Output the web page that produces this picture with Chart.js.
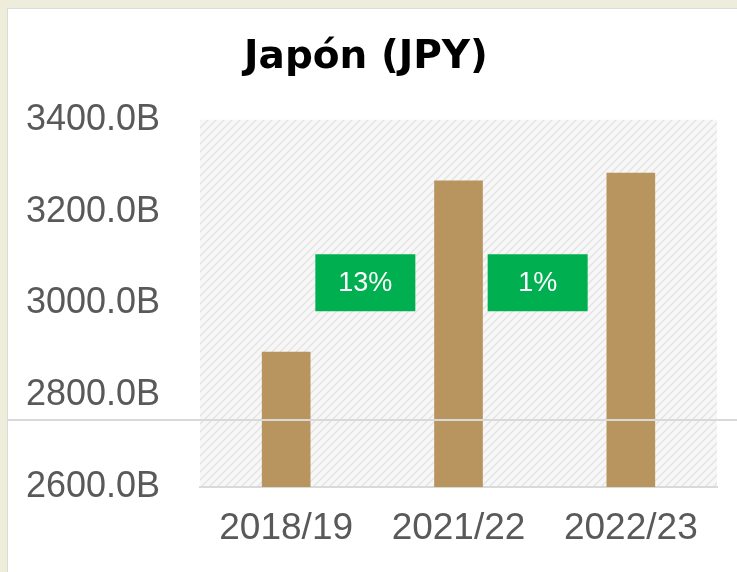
<!DOCTYPE html>
<html>
<head>
<meta charset="utf-8">
<script src="https://cdn.jsdelivr.net/npm/chart.js@4/dist/chart.umd.min.js"></script>
<style>
  html, body { margin: 0; padding: 0; }
  body { width: 737px; height: 572px; background: #eeecda; position: relative; overflow: hidden; }
  .panel {
    position: absolute; left: 7px; top: 8px; right: 0; bottom: 0;
    background: #fff; border-left: 1px solid #dcdcd4; border-top: 1px solid #dcdcd4;
  }
  .wrap { position: absolute; left: 0; top: 0; width: 737px; height: 572px; }
  .sep { position: absolute; left: 7px; right: 0; top: 419px; height: 2px; background: #d9d9d9; }
</style>
</head>
<body>
<div class="panel"></div>
<div class="wrap"><canvas id="chart" width="737" height="572"></canvas></div>
<div class="sep"></div>
<script>
// ── Data ─────────────────────────────────────────────────────────────────────
const categories   = ['2018/19', '2021/22', '2022/23'];
const values       = [2894, 3267, 3284];          // miles de millones JPY
const changeLabels = ['13%', '1%'];               // variación entre barras
const yTicks       = [2600, 2800, 3000, 3200, 3400];

// ── Styles ───────────────────────────────────────────────────────────────────
const BAR_COLOR   = '#b8955e';
const BADGE_COLOR = '#00b050';
const TEXT_GRAY   = '#595959';
const BADGE_LEVEL = 3045;   // altura (en valor) del centro de las etiquetas verdes

// patrón tenue del fondo del área de trazado
function makePattern(ctx) {
  const c = document.createElement('canvas');
  c.width = 8; c.height = 8;
  const p = c.getContext('2d');
  p.fillStyle = '#f7f7f7';
  p.fillRect(0, 0, 8, 8);
  p.strokeStyle = '#e4e4e4';
  p.lineWidth = 1.5;
  p.beginPath();
  p.moveTo(0, 8); p.lineTo(8, 0);
  p.moveTo(-4, 4); p.lineTo(4, -4);
  p.moveTo(4, 12); p.lineTo(12, 4);
  p.stroke();
  return ctx.createPattern(c, 'repeat');
}

const plotBg = {
  id: 'plotBg',
  beforeDraw(chart) {
    const { ctx, chartArea: a } = chart;
    ctx.save();
    ctx.fillStyle = makePattern(ctx);
    ctx.fillRect(a.left, a.top, a.right - a.left, a.bottom - a.top);
    ctx.restore();
  }
};

const badges = {
  id: 'badges',
  afterDatasetsDraw(chart) {
    const { ctx, scales: { x, y } } = chart;
    const w = 100, h = 57;
    const cy = y.getPixelForValue(BADGE_LEVEL);
    changeLabels.forEach((txt, i) => {
      const cx = (x.getPixelForValue(i) + x.getPixelForValue(i + 1)) / 2 - 7;
      ctx.save();
      ctx.fillStyle = BADGE_COLOR;
      ctx.fillRect(cx - w / 2, cy - h / 2, w, h);
      ctx.fillStyle = '#ffffff';
      ctx.font = '27px "Liberation Sans", Arial, sans-serif';
      ctx.textAlign = 'center';
      ctx.textBaseline = 'middle';
      ctx.fillText(txt, cx, cy + 1);
      ctx.restore();
    });
  }
};

// ── Chart ────────────────────────────────────────────────────────────────────
new Chart(document.getElementById('chart'), {
  type: 'bar',
  data: {
    labels: categories,
    datasets: [{
      data: values,
      backgroundColor: BAR_COLOR,
      borderWidth: 0,
      barThickness: 48
    }]
  },
  options: {
    responsive: false,
    animation: false,
    devicePixelRatio: 1,
    layout: { padding: { left: 15, right: 20, top: 0, bottom: 0 } },
    plugins: {
      legend: { display: false },
      tooltip: { enabled: false },
      title: {
        display: true,
        text: 'Japón (JPY)',
        color: '#000000',
        font: { family: '"DejaVu Sans", Arial, sans-serif', size: 39, weight: 'bold', lineHeight: 1.2 },
        padding: { top: 34, bottom: 39 }
      }
    },
    scales: {
      y: {
        min: yTicks[0],
        max: yTicks[yTicks.length - 1],
        afterBuildTicks: s => { s.ticks = yTicks.map(v => ({ value: v })); },
        afterFit: s => { s.width = 185; },
        grid: { display: false, drawTicks: false },
        border: { display: false },
        ticks: {
          padding: 40,
          color: TEXT_GRAY,
          font: { family: '"Liberation Sans", Arial, sans-serif', size: 36 },
          callback: v => v.toFixed(1) + 'B'
        }
      },
      x: {
        afterFit: s => { s.height = 85; },
        grid: { display: false, drawTicks: false },
        border: { display: true, color: '#d9d9d9', width: 2 },
        ticks: {
          padding: 20,
          color: TEXT_GRAY,
          font: { family: '"Liberation Sans", Arial, sans-serif', size: 37 }
        }
      }
    }
  },
  plugins: [plotBg, badges]
});
</script>
</body>
</html>
